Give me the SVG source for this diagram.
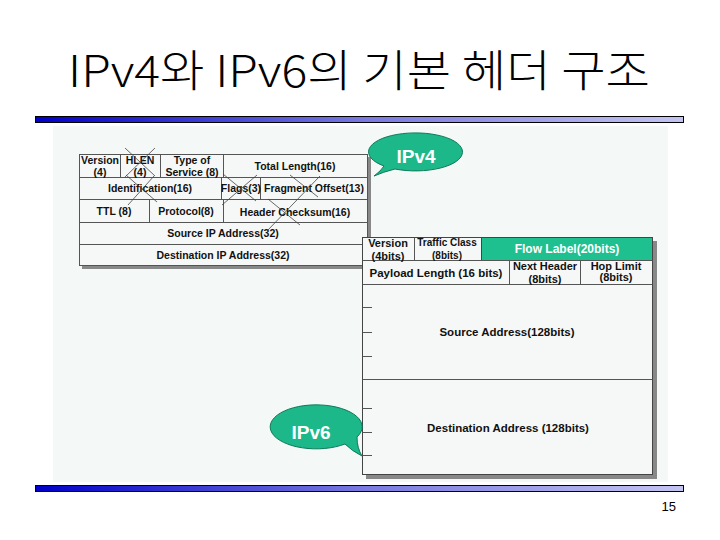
<svg xmlns="http://www.w3.org/2000/svg" width="720" height="540" viewBox="0 0 720 540">
<defs>
<linearGradient id="bar" x1="0" y1="0" x2="1" y2="0">
<stop offset="0" stop-color="#0000c8"/>
<stop offset="0.5" stop-color="#7878e0"/>
<stop offset="1" stop-color="#c4c4f2"/>
</linearGradient>
<style>
.t{font-family:"Liberation Sans",Arial,sans-serif;font-weight:bold;fill:#111;text-anchor:middle}
.c{stroke:#555;stroke-width:1;fill:none}
.x{stroke:#444;stroke-width:0.8;fill:none}
.tick{stroke:#555;stroke-width:1}
.bub{fill:#1db88a;stroke:#0e7a5a;stroke-width:1}
.bt{font-family:"Liberation Sans",Arial,sans-serif;font-weight:bold;fill:#fff;text-anchor:middle;font-size:19px}
</style>
</defs>
<rect width="720" height="540" fill="#fff"/>
<text x="68" y="87" font-family="'Noto Sans CJK KR','Noto Sans',sans-serif" font-size="44" font-weight="300" textLength="582" lengthAdjust="spacingAndGlyphs" fill="#000">IPv4와 IPv6의 기본 헤더 구조</text>
<rect x="35.5" y="116.5" width="648" height="6" fill="url(#bar)" stroke="#000"/>
<rect x="35.5" y="485.5" width="648" height="6" fill="url(#bar)" stroke="#000"/>
<text x="676" y="511" font-family="'Liberation Sans',Arial,sans-serif" font-size="13" text-anchor="end" fill="#000">15</text>
<rect x="53" y="126" width="615" height="356" fill="#f4f8f6"/>

<g id="ipv4">
<rect x="82" y="157" width="289" height="112" fill="#888"/>
<rect x="79.5" y="154.5" width="288" height="111" fill="#f6f8f7" stroke="#555"/>
<line class="c" x1="79.5" y1="177.5" x2="367.5" y2="177.5"/>
<line class="c" x1="79.5" y1="199.5" x2="367.5" y2="199.5"/>
<line class="c" x1="79.5" y1="222.5" x2="367.5" y2="222.5"/>
<line class="c" x1="79.5" y1="244.5" x2="367.5" y2="244.5"/>
<line class="c" x1="120.5" y1="154.5" x2="120.5" y2="177.5"/>
<line class="c" x1="160.5" y1="154.5" x2="160.5" y2="177.5"/>
<line class="c" x1="223.5" y1="154.5" x2="223.5" y2="177.5"/>
<line class="c" x1="221.5" y1="177.5" x2="221.5" y2="199.5"/>
<line class="c" x1="260.5" y1="177.5" x2="260.5" y2="199.5"/>
<line class="c" x1="149.5" y1="199.5" x2="149.5" y2="222.5"/>
<line class="c" x1="223.5" y1="199.5" x2="223.5" y2="222.5"/>
<text class="t" font-size="10.5" x="100" y="164">Version</text>
<text class="t" font-size="10.5" x="100" y="176">(4)</text>
<text class="t" font-size="10.5" x="140" y="164">HLEN</text>
<text class="t" font-size="10.5" x="140" y="176">(4)</text>
<text class="t" font-size="10.5" x="192" y="164">Type of</text>
<text class="t" font-size="10.5" x="192" y="176">Service (8)</text>
<text class="t" font-size="10.5" x="295" y="170">Total Length(16)</text>
<text class="t" font-size="10.5" x="150" y="192">Identification(16)</text>
<text class="t" font-size="10.5" x="241" y="192">Flags(3)</text>
<text class="t" font-size="10.5" x="314" y="192">Fragment Offset(13)</text>
<text class="t" font-size="10.5" x="114" y="215">TTL (8)</text>
<text class="t" font-size="10.5" x="186" y="215">Protocol(8)</text>
<text class="t" font-size="10.5" x="295" y="216">Header Checksum(16)</text>
<text class="t" font-size="10.5" x="223" y="237">Source IP Address(32)</text>
<text class="t" font-size="10.5" x="223" y="259">Destination IP Address(32)</text>
<g id="crosses">
<line class="x" x1="125" y1="148" x2="155" y2="176"/>
<line class="x" x1="155" y1="148" x2="125" y2="177"/>
<line class="x" x1="126" y1="175" x2="157" y2="202"/>
<line class="x" x1="154" y1="176" x2="128" y2="205"/>
<line class="x" x1="223" y1="174" x2="256" y2="201"/>
<line class="x" x1="222" y1="205" x2="257" y2="175"/>
<line class="x" x1="290" y1="175" x2="318" y2="197"/>
<line class="x" x1="320" y1="176" x2="267" y2="231"/>
<line class="x" x1="268" y1="199" x2="300" y2="225"/>
</g>
</g>

<g id="ipv4-bubble">
<path class="bub" d="M 384 166 A 47 19 0 1 1 395 169 Q 383 172 374 176 Q 381 171 384 166 Z"/>
<text class="bt" x="416" y="163">IPv4</text>
</g>

<g id="ipv6">
<rect x="366" y="241" width="291" height="238" fill="#888"/>
<rect x="362.5" y="237.5" width="290" height="237" fill="#f6f8f7" stroke="#444"/>
<rect x="481.5" y="237.5" width="171" height="23" fill="#1fc08f" stroke="#444"/>
<line class="c" x1="362.5" y1="260.5" x2="652.5" y2="260.5"/>
<line class="c" x1="362.5" y1="284.5" x2="652.5" y2="284.5"/>
<line class="c" x1="362.5" y1="379.5" x2="652.5" y2="379.5"/>
<line class="c" x1="414.5" y1="237.5" x2="414.5" y2="260.5"/>
<line class="c" x1="509.5" y1="260.5" x2="509.5" y2="284.5"/>
<line class="c" x1="580.5" y1="260.5" x2="580.5" y2="284.5"/>
<line class="tick" x1="362.5" y1="307.5" x2="372" y2="307.5"/>
<line class="tick" x1="362.5" y1="332.5" x2="372" y2="332.5"/>
<line class="tick" x1="362.5" y1="356.5" x2="372" y2="356.5"/>
<line class="tick" x1="362.5" y1="408.5" x2="372" y2="408.5"/>
<line class="tick" x1="362.5" y1="432.5" x2="372" y2="432.5"/>
<line class="tick" x1="362.5" y1="455.5" x2="372" y2="455.5"/>
<text class="t" font-size="11" x="388" y="247">Version</text>
<text class="t" font-size="11" x="388" y="260">(4bits)</text>
<text class="t" font-size="10" x="447" y="246">Traffic Class</text>
<text class="t" font-size="10" x="447" y="259">(8bits)</text>
<text class="t" font-size="12" x="567" y="253" style="fill:#fff">Flow Label(20bits)</text>
<text class="t" font-size="11.5" x="436" y="277">Payload Length (16 bits)</text>
<text class="t" font-size="11" x="545" y="270">Next Header</text>
<text class="t" font-size="11" x="545" y="283">(8bits)</text>
<text class="t" font-size="11" x="616" y="270">Hop Limit</text>
<text class="t" font-size="11" x="616" y="281">(8bits)</text>
<text class="t" font-size="11.5" x="507" y="336">Source Address(128bits)</text>
<text class="t" font-size="11.5" x="508" y="432">Destination Address (128bits)</text>
</g>

<g id="ipv6-bubble">
<path class="bub" d="M 345 444 A 46 22 0 1 1 357 437 Q 357 448 362 456 Q 352 451 345 444 Z"/>
<text class="bt" x="311" y="439">IPv6</text>
</g>
</svg>
